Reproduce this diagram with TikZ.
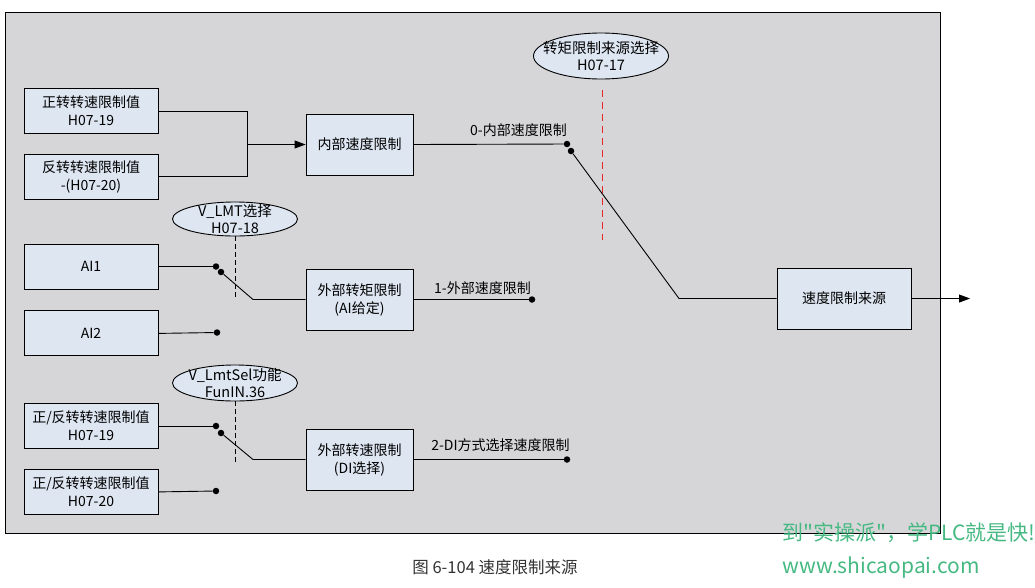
\documentclass[tikz,border=0pt]{standalone}
\usepackage{fontspec}
\setmainfont{Noto Sans CJK SC}
\newfontfamily\markfont{Noto Sans CJK SC}[Ligatures=TeXOff]
\usetikzlibrary{shapes.geometric, arrows.meta, positioning}
\definecolor{panelgray}{RGB}{214,214,216}
\definecolor{boxblue} {RGB}{222,230,242}
\definecolor{selred}  {RGB}{230, 40, 40}
\definecolor{markgreen}{RGB}{70,185,130}

\begin{document}
\begin{tikzpicture}[x=1pt, y=-1pt,
  blk/.style={rectangle, draw=black, fill=boxblue, line width=0.9pt,
    minimum width=134pt, minimum height=45pt, inner sep=0pt,
    font=\fontsize{14}{18}\selectfont, align=center},
  lim/.style={blk, minimum width=107pt, minimum height=61pt},
  sel/.style={ellipse, draw=black, fill=boxblue, line width=0.9pt,
    inner sep=0pt},
  seltxt/.style={align=center, font=\fontsize{14.5}{17}\selectfont},
  ln/.style={line width=0.9pt},
  ar/.style={ln, -{Triangle[length=11pt,width=8pt]}},
  jdot/.style={circle, fill=black, inner sep=0pt, minimum size=6.5pt},
  lbl/.style={font=\fontsize{14}{16}\selectfont},
  ctl/.style={line width=0.8pt, dash pattern=on 5pt off 3pt}
]
  \useasboundingbox (0,0) rectangle (1035,587);
  \draw[fill=panelgray, line width=0.9pt] (5,12) rectangle (940,533);

  % blocks
  \node[blk] (fwd) at (91,111) {正转转速限制值\\H07-19};
  \node[blk, below=20pt of fwd] (rev) {反转转速限制值\\-(H07-20)};
  \node[lim] (inner) at (359.5,144.5) {内部速度限制};
  \node[blk] (ai1) at (91,266.5) {AI1};
  \node[blk, below=21pt of ai1] (ai2) {AI2};
  \node[lim] (extT) at (359.5,299.5) {外部转矩限制\\(AI给定)};
  \node[blk] (dir19) at (91,426) {正/反转转速限制值\\H07-19};
  \node[blk, below=20pt of dir19] (dir20) {正/反转转速限制值\\H07-20};
  \node[lim] (extS) at (359.5,459.5) {外部转速限制\\(DI选择)};
  \node[blk, minimum height=61pt] (src) at (844,298.5) {速度限制来源};

  % selectors
  \node[sel, minimum width=135pt, minimum height=46pt,
    label={[seltxt]center:{转矩限制来源选择\\H07-17}}] (selT) at (601,56) {};
  \node[sel, minimum width=125pt, minimum height=34pt,
    label={[seltxt]center:{V\_LMT选择\\H07-18}}] (selA) at (235,219) {};
  \node[sel, minimum width=125pt, minimum height=36pt,
    label={[seltxt]center:{V\_LmtSel功能\\FunIN.36}}] (selD) at (235,383) {};

  % contacts
  \node[jdot] (d0)  at (567,144) {};
  \node[jdot] (d0s) at (571,151) {};
  \node[jdot] (dA)  at (216,266.5) {};
  \node[jdot] (dAs) at (221,272) {};
  \node[jdot] (dA2) at (217,332.5) {};
  \node[jdot] (dT)  at (532,299.5) {};
  \node[jdot] (dD)  at (216,426) {};
  \node[jdot] (dDs) at (221,433) {};
  \node[jdot] (dD2) at (216,491) {};
  \node[jdot] (dS)  at (567,459.5) {};
  \coordinate (jn) at (247,144.5);
  \coordinate (b0) at (679,298.5);
  \coordinate (bA) at (253,299.5);
  \coordinate (bD) at (253,459.5);
  \coordinate (tA) at (235,300);
  \coordinate (tD) at (235,462);
  \coordinate (rt) at (602,90);
  \coordinate (rb) at (602,240);
  \coordinate (out) at (970,298.5);

  % connections
  \draw[ln] (fwd.east) -| (jn);
  \draw[ln] (rev.east) -| (jn);
  \draw[ar] (jn) -- (inner.west);
  \draw[ln] (inner.east) -- node[lbl, above=4pt, pos=0.7] {0-内部速度限制} (d0);
  \draw[ln] (d0s) -- (b0) -- (src.west);
  \draw[ar] (src.east) -- (out);
  \draw[selred, line width=0.8pt, dash pattern=on 7pt off 5pt] (rt) -- (rb);

  \draw[ln] (ai1.east) -- (dA);
  \draw[ln] (dAs) -- (bA) -- (extT.west);
  \draw[ln] (ai2.east) -- (dA2);
  \draw[ctl] (selA) -- (tA);
  \draw[ln] (extT.east) -- node[lbl, above=1pt, pos=0.6] {1-外部速度限制} (dT);

  \draw[ln] (dir19.east) -- (dD);
  \draw[ln] (dDs) -- (bD) -- (extS.west);
  \draw[ln] (dir20.east) -- (dD2);
  \draw[ctl] (selD) -- (tD);
  \draw[ln] (extS.east) -- node[lbl, above=4pt, pos=0.58] {2-DI方式选择速度限制} (dS);

  % caption and mark
  \node[font=\fontsize{16.5}{18}\selectfont, text=black!80] (cap) at (495,567)
    {图 6-104 速度限制来源};
  \node[font=\markfont\fontsize{21}{24}\selectfont, text=markgreen, anchor=west]
    (wm1) at (779,533) {到"实操派"，学PLC就是快!};
  \node[font=\markfont\fontsize{21}{24}\selectfont, text=markgreen, anchor=west]
    (wm2) at (779,568) {www.shicaopai.com};
\end{tikzpicture}
\end{document}
